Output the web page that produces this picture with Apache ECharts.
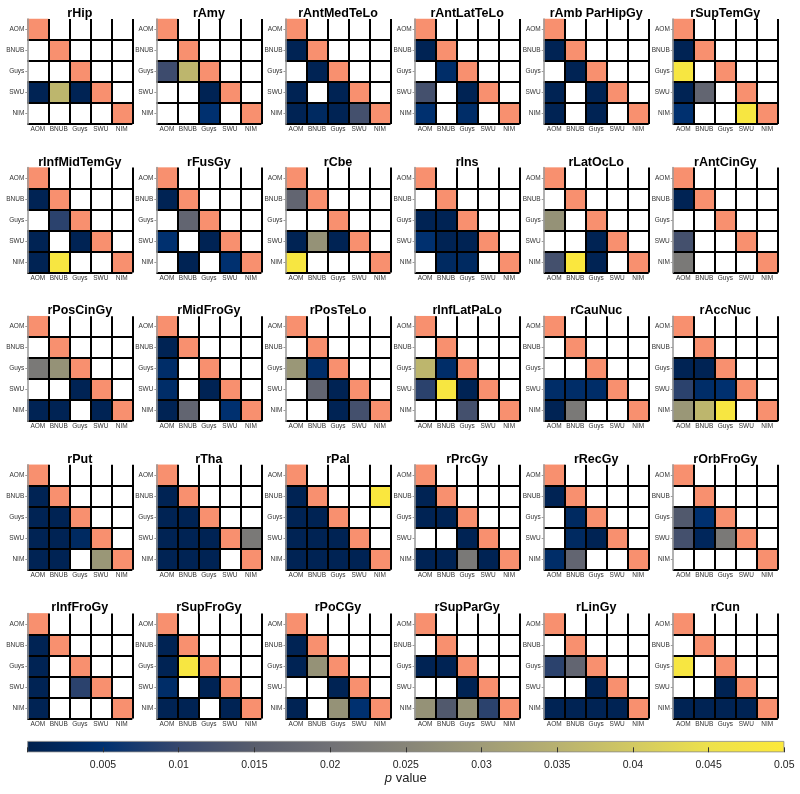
<!DOCTYPE html>
<html>
<head>
<meta charset="utf-8">
<title>p value matrices</title>
<script src="https://cdn.jsdelivr.net/npm/echarts@6.0.0/dist/echarts.min.js"></script>
<style>
  html, body { margin: 0; padding: 0; background: #fff; }
  #main { width: 800px; height: 794px; }
</style>
</head>
<body>
<div id="main"></div>
<script>
// sites, same order on both axes
var groups = ['AOM', 'BNUB', 'Guys', 'SWU', 'NIM'];

var regions = [
  'rHip', 'rAmy', 'rAntMedTeLo', 'rAntLatTeLo', 'rAmb ParHipGy', 'rSupTemGy',
  'rInfMidTemGy', 'rFusGy', 'rCbe', 'rIns', 'rLatOcLo', 'rAntCinGy',
  'rPosCinGy', 'rMidFroGy', 'rPosTeLo', 'rInfLatPaLo', 'rCauNuc', 'rAccNuc',
  'rPut', 'rTha', 'rPal', 'rPrcGy', 'rRecGy', 'rOrbFroGy',
  'rInfFroGy', 'rSupFroGy', 'rPoCGy', 'rSupParGy', 'rLinGy', 'rCun'
];

// significant pairs per region: [row site, column site, p]
var sigCells = [
  [['SWU','AOM',0.001],['SWU','BNUB',0.036],['SWU','Guys',0.001]],
  [['Guys','AOM',0.011],['Guys','BNUB',0.036],['SWU','Guys',0.001],['NIM','Guys',0.005]],
  [['BNUB','AOM',0.001],['Guys','BNUB',0.001],['SWU','AOM',0.001],['SWU','Guys',0.001],['NIM','AOM',0.001],['NIM','BNUB',0.003],['NIM','Guys',0.001],['NIM','SWU',0.012]],
  [['BNUB','AOM',0.001],['Guys','BNUB',0.004],['SWU','AOM',0.012],['SWU','Guys',0.001],['NIM','AOM',0.005],['NIM','Guys',0.004]],
  [['BNUB','AOM',0.001],['Guys','BNUB',0.001],['SWU','AOM',0.001],['SWU','Guys',0.001],['NIM','AOM',0.001],['NIM','Guys',0.001]],
  [['BNUB','AOM',0.001],['Guys','AOM',0.048],['SWU','AOM',0.001],['SWU','BNUB',0.017],['NIM','AOM',0.005],['NIM','SWU',0.048]],

  [['BNUB','AOM',0.001],['Guys','BNUB',0.009],['SWU','AOM',0.001],['SWU','Guys',0.001],['NIM','AOM',0.001],['NIM','BNUB',0.048]],
  [['BNUB','AOM',0.001],['Guys','BNUB',0.017],['SWU','AOM',0.005],['SWU','Guys',0.001],['NIM','BNUB',0.001],['NIM','SWU',0.005]],
  [['BNUB','AOM',0.017],['SWU','AOM',0.001],['SWU','BNUB',0.028],['SWU','Guys',0.001],['NIM','AOM',0.048]],
  [['Guys','AOM',0.001],['Guys','BNUB',0.001],['SWU','AOM',0.005],['SWU','BNUB',0.001],['SWU','Guys',0.001],['NIM','BNUB',0.003],['NIM','Guys',0.003]],
  [['Guys','AOM',0.028],['SWU','Guys',0.001],['NIM','AOM',0.012],['NIM','BNUB',0.049],['NIM','Guys',0.001]],
  [['BNUB','AOM',0.001],['SWU','AOM',0.012],['NIM','AOM',0.022]],

  [['Guys','AOM',0.022],['Guys','BNUB',0.028],['SWU','Guys',0.001],['NIM','AOM',0.001],['NIM','BNUB',0.001],['NIM','SWU',0.001]],
  [['BNUB','AOM',0.001],['Guys','AOM',0.004],['SWU','AOM',0.004],['SWU','Guys',0.001],['NIM','AOM',0.001],['NIM','BNUB',0.017],['NIM','SWU',0.005]],
  [['Guys','AOM',0.029],['Guys','BNUB',0.004],['SWU','BNUB',0.017],['SWU','Guys',0.001],['NIM','Guys',0.001],['NIM','SWU',0.012]],
  [['Guys','AOM',0.036],['Guys','BNUB',0.004],['SWU','AOM',0.009],['SWU','BNUB',0.048],['SWU','Guys',0.001],['NIM','Guys',0.012]],
  [['SWU','AOM',0.004],['SWU','BNUB',0.004],['SWU','Guys',0.004],['NIM','AOM',0.001],['NIM','BNUB',0.022]],
  [['Guys','AOM',0.001],['Guys','BNUB',0.001],['SWU','AOM',0.009],['SWU','BNUB',0.004],['SWU','Guys',0.005],['NIM','AOM',0.029],['NIM','BNUB',0.036],['NIM','Guys',0.048]],

  [['BNUB','AOM',0.001],['Guys','AOM',0.001],['Guys','BNUB',0.001],['SWU','AOM',0.001],['SWU','BNUB',0.001],['SWU','Guys',0.003],['NIM','AOM',0.001],['NIM','BNUB',0.001],['NIM','SWU',0.029]],
  [['BNUB','AOM',0.001],['Guys','AOM',0.001],['Guys','BNUB',0.001],['SWU','AOM',0.001],['SWU','BNUB',0.001],['SWU','Guys',0.001],['SWU','NIM',0.022],['NIM','AOM',0.001],['NIM','BNUB',0.001],['NIM','Guys',0.001]],
  [['BNUB','AOM',0.001],['BNUB','NIM',0.049],['Guys','AOM',0.001],['Guys','BNUB',0.001],['SWU','AOM',0.001],['SWU','BNUB',0.001],['SWU','Guys',0.001],['NIM','AOM',0.001],['NIM','BNUB',0.001],['NIM','Guys',0.001],['NIM','SWU',0.001]],
  [['BNUB','AOM',0.001],['Guys','AOM',0.001],['Guys','BNUB',0.001],['SWU','Guys',0.001],['NIM','AOM',0.001],['NIM','BNUB',0.001],['NIM','Guys',0.022],['NIM','SWU',0.001]],
  [['BNUB','AOM',0.001],['Guys','BNUB',0.003],['SWU','BNUB',0.003],['SWU','Guys',0.001],['NIM','AOM',0.004],['NIM','BNUB',0.017]],
  [['Guys','AOM',0.014],['Guys','BNUB',0.005],['SWU','AOM',0.012],['SWU','BNUB',0.002],['SWU','Guys',0.022]],

  [['BNUB','AOM',0.001],['Guys','AOM',0.001],['SWU','AOM',0.001],['SWU','Guys',0.009],['NIM','AOM',0.001]],
  [['BNUB','AOM',0.001],['Guys','AOM',0.001],['Guys','BNUB',0.048],['SWU','AOM',0.004],['SWU','Guys',0.001],['NIM','AOM',0.001],['NIM','BNUB',0.001],['NIM','SWU',0.001]],
  [['BNUB','AOM',0.001],['Guys','AOM',0.001],['Guys','BNUB',0.028],['SWU','Guys',0.001],['NIM','AOM',0.001],['NIM','Guys',0.028],['NIM','SWU',0.005]],
  [['Guys','AOM',0.001],['Guys','BNUB',0.001],['SWU','Guys',0.001],['NIM','AOM',0.028],['NIM','BNUB',0.014],['NIM','Guys',0.028],['NIM','SWU',0.009]],
  [['Guys','AOM',0.009],['Guys','BNUB',0.017],['SWU','Guys',0.001],['NIM','AOM',0.001],['NIM','BNUB',0.001],['NIM','Guys',0.001],['NIM','SWU',0.001]],
  [['Guys','AOM',0.048],['SWU','Guys',0.001],['NIM','AOM',0.001],['NIM','BNUB',0.001],['NIM','Guys',0.001],['NIM','SWU',0.001]]
];

// colour bar scale
var pMin = 0, pMax = 0.05, pStep = 0.005;

// cividis
var cividis = ['#00204D', '#00306F', '#36476D', '#585D6D', '#717176', '#878578',
  '#9F9B77', '#B8B170', '#D2C962', '#EDE14C', '#FDE93A'];
var diagColor = '#f8906f';
var font = '"Liberation Sans", Arial, Helvetica, sans-serif';

var chart = echarts.init(document.getElementById('main'));

var grids = [], xAxes = [], yAxes = [], series = [], texts = [];
var pSeries = [], diagSeries = [];
var cellBox = 105;

regions.forEach(function (name, i) {
  var col = i % 6, row = Math.floor(i / 6);
  var left = 27.3 + col * 129.1;
  var top = 19 + row * 148.6;

  grids.push({ left: left, top: top, width: cellBox, height: cellBox });

  xAxes.push({
    gridIndex: i, type: 'category', data: groups, z: 10,
    axisLine: { show: false },
    axisTick: { show: false },
    axisLabel: { interval: 0, fontSize: 6.5, color: '#333', margin: 2, fontFamily: font },
    splitLine: { show: true, showMinLine: false, lineStyle: { color: '#000', width: 2 } }
  });
  yAxes.push({
    gridIndex: i, type: 'category', data: groups, inverse: true, z: 10,
    axisLine: { show: true, lineStyle: { color: '#999', width: 1.5 } },
    axisTick: { show: true, alignWithLabel: true, length: 2, lineStyle: { color: '#999' } },
    axisLabel: { interval: 0, fontSize: 6.5, color: '#333', margin: 3, fontFamily: font },
    splitLine: { show: true, showMinLine: false, lineStyle: { color: '#000', width: 2 } }
  });

  // diagonal (same site)
  diagSeries.push(series.length);
  series.push({
    type: 'heatmap', xAxisIndex: i, yAxisIndex: i,
    data: groups.map(function (g, k) { return [k, k, 1]; }),
    emphasis: { disabled: true }, silent: true
  });

  // significant p values
  pSeries.push(series.length);
  series.push({
    type: 'heatmap', xAxisIndex: i, yAxisIndex: i,
    data: sigCells[i].map(function (c) {
      return [groups.indexOf(c[1]), groups.indexOf(c[0]), c[2]];
    }),
    emphasis: { disabled: true }, silent: true
  });

  texts.push({
    type: 'text', x: left + cellBox / 2, y: top - 5.5,
    style: {
      text: name, fill: '#000', font: 'bold 12.5px ' + font,
      align: 'center', verticalAlign: 'middle',
      textAlign: 'center', textVerticalAlign: 'middle'
    }
  });
});

// colour bar
var cb = regions.length;
grids.push({ left: 27.3, top: 741, width: 757, height: 11.3 });
xAxes.push({
  gridIndex: cb, type: 'value', min: pMin, max: pMax, interval: pStep, z: 10,
  name: '{i|p} value', nameLocation: 'middle', nameGap: 20,
  nameTextStyle: { fontSize: 13, color: '#222', fontFamily: font, rich: { i: { fontStyle: 'italic', fontSize: 13, fontFamily: font } } },
  axisLine: { show: false },
  axisTick: { show: true, inside: true, length: 5, lineStyle: { color: '#333' } },
  axisLabel: {
    fontSize: 10.5, color: '#222', margin: 7, fontFamily: font,
    formatter: function (v) { return v === 0 ? '' : String(+v.toFixed(3)); }
  },
  splitLine: { show: false }
});
yAxes.push({ gridIndex: cb, type: 'category', data: ['p'], show: false });
series.push({
  type: 'bar', xAxisIndex: cb, yAxisIndex: cb, data: [pMax], barWidth: '100%',
  silent: true,
  itemStyle: {
    borderColor: '#888', borderWidth: 0.8,
    color: {
      type: 'linear', x: 0, y: 0, x2: 1, y2: 0,
      colorStops: cividis.map(function (c, k) { return { offset: k / (cividis.length - 1), color: c }; })
    }
  }
});

chart.setOption({
  backgroundColor: '#fff',
  animation: false,
  grid: grids,
  xAxis: xAxes,
  yAxis: yAxes,
  visualMap: [
    { type: 'continuous', show: false, min: pMin, max: pMax, seriesIndex: pSeries, inRange: { color: cividis } },
    { type: 'continuous', show: false, min: 0, max: 1, seriesIndex: diagSeries, inRange: { color: [diagColor, diagColor] } }
  ],
  graphic: texts,
  series: series
});
</script>
</body>
</html>
